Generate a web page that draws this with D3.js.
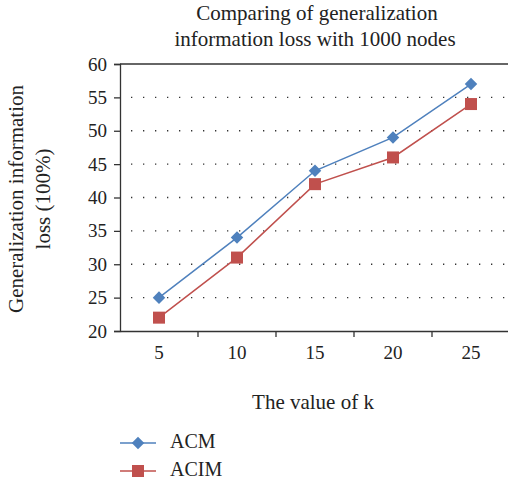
<!DOCTYPE html>
<html>
<head>
<meta charset="utf-8">
<script src="https://cdn.jsdelivr.net/npm/d3@7"></script>
<style>
body { margin: 0; background: #fff; }
</style>
</head>
<body>
<div id="graph_draw"></div>
<script>
// data
var kValues = ["5", "10", "15", "20", "25"];
var acm = [25, 34, 44, 49, 57];
var acim = [22, 31, 42, 46, 54];
var yTicks = [20, 25, 30, 35, 40, 45, 50, 55, 60];

var W = 508, H = 481;
var FONT = "Liberation Serif";
// set the dimensions and margins of the graph
var margin = {top: 64, left: 120},
    width = 390,
    height = 267;

var svg = d3.select("#graph_draw").append("svg")
    .attr("width", W)
    .attr("height", H)
    .attr("font-family", FONT);

var g = svg.append("g")
    .attr("transform", "translate(" + margin.left + "," + margin.top + ")");

var x = d3.scaleBand().domain(kValues).range([0, width]);
var y = d3.scaleLinear().domain([20, 60]).range([height, 0]);

// dotted gridlines
g.selectAll(".grid").data(yTicks.filter(function(d) { return d > 20 && d < 60; }))
    .enter().append("line")
    .attr("x1", 0).attr("x2", width)
    .attr("y1", function(d) { return y(d); })
    .attr("y2", function(d) { return y(d); })
    .attr("stroke", "#333")
    .attr("stroke-width", 1.3)
    .attr("stroke-dasharray", "1.3,10.7")
    .attr("stroke-dashoffset", -11);

// top border line
g.append("line")
    .attr("x1", 0).attr("x2", width)
    .attr("y1", y(60)).attr("y2", y(60))
    .attr("stroke", "#333").attr("stroke-width", 1.3);

// Y axis
var yAxis = g.append("g")
    .call(d3.axisLeft(y).tickValues(yTicks).tickSize(6).tickPadding(7));
yAxis.attr("font-family", FONT).attr("font-size", 19);
yAxis.select(".domain").attr("stroke", "#333").attr("stroke-width", 1.3);
yAxis.selectAll(".tick line").attr("stroke", "#333").attr("stroke-width", 1.3);
yAxis.selectAll("text").attr("fill", "#222");

// X axis (ticks between the categories)
var xAxis = g.append("g")
    .attr("transform", "translate(0," + height + ")")
    .call(d3.axisBottom(x).tickSize(0).tickPadding(15));
xAxis.attr("font-family", FONT).attr("font-size", 19);
xAxis.select(".domain").attr("stroke", "#333").attr("stroke-width", 1.3);
xAxis.selectAll("text").attr("fill", "#222");
xAxis.selectAll(".sep").data(kValues.slice(1))
    .enter().append("line")
    .attr("x1", function(d) { return x(d); })
    .attr("x2", function(d) { return x(d); })
    .attr("y1", 0).attr("y2", 6)
    .attr("stroke", "#333").attr("stroke-width", 1.3);

var cx = function(d, i) { return x(kValues[i]) + x.bandwidth() / 2; };
var line = d3.line().x(cx).y(function(d) { return y(d); });

// ACM
g.append("path").datum(acm)
    .attr("fill", "none").attr("stroke", "#4F81BD").attr("stroke-width", 1.5)
    .attr("d", line);
g.selectAll(".acm").data(acm).enter().append("path")
    .attr("transform", function(d, i) { return "translate(" + cx(d, i) + "," + y(d) + ")"; })
    .attr("d", d3.symbol().type(d3.symbolDiamond2).size(100))
    .attr("fill", "#4F81BD");

// ACIM
g.append("path").datum(acim)
    .attr("fill", "none").attr("stroke", "#C0504D").attr("stroke-width", 1.5)
    .attr("d", line);
g.selectAll(".acim").data(acim).enter().append("rect")
    .attr("x", function(d, i) { return cx(d, i) - 6; })
    .attr("y", function(d) { return y(d) - 6; })
    .attr("width", 12).attr("height", 12)
    .attr("fill", "#C0504D");

// title
var title = svg.append("text")
    .attr("text-anchor", "middle")
    .attr("font-size", "21px").attr("fill", "#222");
title.append("tspan").attr("x", 317).attr("y", 20).text("Comparing of generalization");
title.append("tspan").attr("x", 315).attr("y", 46).text("information loss with 1000 nodes");

// y axis title
var yt = svg.append("text")
    .attr("text-anchor", "middle")
    .attr("font-size", "21px").attr("fill", "#222")
    .attr("transform", "translate(0,199) rotate(-90)");
yt.append("tspan").attr("x", 0).attr("y", 23).text("Generalization information");
yt.append("tspan").attr("x", 0).attr("y", 50).text("loss (100%)");

// x axis title
svg.append("text")
    .attr("x", 313).attr("y", 409)
    .attr("text-anchor", "middle")
    .attr("font-size", "21px").attr("fill", "#222")
    .text("The value of k");

// legend
var legend = [{name: "ACM", color: "#4F81BD", shape: "diamond"},
              {name: "ACIM", color: "#C0504D", shape: "square"}];
var lg = svg.selectAll(".legend").data(legend).enter().append("g")
    .attr("transform", function(d, i) { return "translate(120," + (443 + i * 28) + ")"; });
lg.append("line").attr("x1", 0).attr("x2", 36)
    .attr("stroke", function(d) { return d.color; }).attr("stroke-width", 1.5);
lg.append("path")
    .attr("transform", "translate(18,0)")
    .attr("d", function(d) {
        return d.shape === "diamond" ? d3.symbol().type(d3.symbolDiamond2).size(100)() : "M-6,-6H6V6H-6Z";
    })
    .attr("fill", function(d) { return d.color; });
lg.append("text").attr("x", 50).attr("y", 5)
    .attr("font-size", "20px").attr("fill", "#222")
    .text(function(d) { return d.name; });
</script>
</body>
</html>
